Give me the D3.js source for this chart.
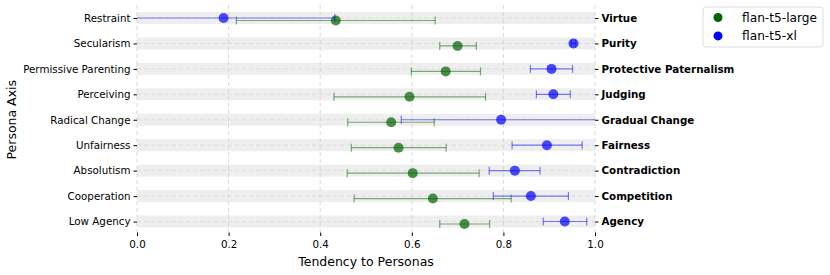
<!DOCTYPE html>
<html lang="en">
<head>
  <meta charset="UTF-8" />
  <title>Persona Axis</title>
  <script src="https://cdnjs.cloudflare.com/ajax/libs/d3/7.8.4/d3.min.js"></script>
  <style>
    body { margin: 0; background: #fff; font-family: "DejaVu Sans", sans-serif; }
    svg { display: block; }
    .grid line { stroke: #cfcfcf; stroke-dasharray: 4,3; stroke-width: 0.8px; }
    .tick text { font-size: 10.3px; fill: #000; font-family: "DejaVu Sans", sans-serif; }
  </style>
</head>
<body>
  <svg width="830" height="275"></svg>
  <script>
    const leftLabels = ["Restraint", "Secularism", "Permissive Parenting", "Perceiving", "Radical Change",
      "Unfairness", "Absolutism", "Cooperation", "Low Agency"];
    const rightLabels = ["Virtue", "Purity", "Protective Paternalism", "Judging", "Gradual Change",
      "Fairness", "Contradiction", "Competition", "Agency"];

    // flan-t5-large
    const largeMean = [0.434, 0.700, 0.674, 0.595, 0.555, 0.571, 0.602, 0.646, 0.715];
    const largeLow  = [0.217, 0.661, 0.599, 0.430, 0.460, 0.468, 0.459, 0.474, 0.661];
    const largeHigh = [0.651, 0.741, 0.750, 0.761, 0.649, 0.675, 0.747, 0.817, 0.770];

    // flan-t5-xl
    const xlMean = [0.189, 0.953, 0.905, 0.909, 0.795, 0.895, 0.825, 0.860, 0.934];
    const xlLow  = [-0.054, 0.948, 0.859, 0.872, 0.577, 0.819, 0.769, 0.778, 0.887];
    const xlHigh = [0.432, 0.958, 0.951, 0.946, 1.013, 0.972, 0.880, 0.942, 0.982];

    const xTicks = [0, 0.2, 0.4, 0.6, 0.8, 1.0];

    const series = [
      { name: "flan-t5-large", color: "darkgreen", mean: largeMean, low: largeLow, high: largeHigh, dy: 2.5 },
      { name: "flan-t5-xl", color: "blue", mean: xlMean, low: xlLow, high: xlHigh, dy: 0 }
    ];

    const margin = { left: 137, right: 235 };
    const width = 830;
    const svg = d3.select("svg");

    const x = d3.scaleLinear().domain([0, 1]).range([margin.left, width - margin.right]);
    const y = d3.scalePoint().domain(d3.range(leftLabels.length))
      .range([18, 221.5]);

    const plot = svg.append("g");
    svg.append("clipPath").attr("id", "clip")
      .append("rect").attr("x", x(0)).attr("y", 0).attr("width", x(1) - x(0)).attr("height", 240);

    // background bands
    plot.selectAll(".band").data(leftLabels).enter().append("rect")
      .attr("x", x(0)).attr("width", x(1) - x(0))
      .attr("y", (d, i) => y(i) - 6).attr("height", 12)
      .attr("fill", "#eeeeee");

    // grid
    const grid = plot.append("g").attr("class", "grid");
    grid.selectAll(".v").data(xTicks).enter().append("line")
      .attr("x1", d => x(d)).attr("x2", d => x(d))
      .attr("y1", 5).attr("y2", 232);
    grid.selectAll(".h").data(leftLabels).enter().append("line")
      .attr("x1", x(0)).attr("x2", x(1))
      .attr("y1", (d, i) => y(i)).attr("y2", (d, i) => y(i))
      .style("stroke", "#d8d8d8");

    // error bars and points
    series.forEach(s => {
      const g = plot.append("g").attr("clip-path", "url(#clip)");
      const idx = d3.range(s.mean.length);
      g.selectAll(".err").data(idx).enter().append("line")
        .attr("x1", i => x(s.low[i])).attr("x2", i => x(s.high[i]))
        .attr("y1", i => y(i) + s.dy).attr("y2", i => y(i) + s.dy)
        .attr("stroke", s.color).attr("stroke-opacity", 0.5).attr("stroke-width", 1.2);
      ["low", "high"].forEach(k => {
        g.selectAll(".cap-" + k).data(idx).enter().append("line")
          .attr("x1", i => x(s[k][i])).attr("x2", i => x(s[k][i]))
          .attr("y1", i => y(i) + s.dy - 4).attr("y2", i => y(i) + s.dy + 4)
          .attr("stroke", s.color).attr("stroke-opacity", 0.5).attr("stroke-width", 1.2);
      });
      g.selectAll(".pt").data(idx).enter().append("circle")
        .attr("cx", i => x(s.mean[i])).attr("cy", i => y(i) + s.dy)
        .attr("r", 5).attr("fill", s.color).attr("fill-opacity", 0.7);
    });

    // axes
    const left = svg.append("g").attr("transform", `translate(${x(0)},0)`)
      .call(d3.axisLeft(y).tickFormat(i => leftLabels[i]).tickSize(3.5).tickPadding(3));
    left.select(".domain").remove();

    const right = svg.append("g").attr("transform", `translate(${x(1)},0)`)
      .call(d3.axisRight(y).tickFormat(i => rightLabels[i]).tickSize(3.5).tickPadding(3));
    right.select(".domain").remove();
    right.selectAll("text").style("font-weight", "bold");

    const bottom = svg.append("g").attr("transform", "translate(0,232.5)")
      .call(d3.axisBottom(x).tickValues(xTicks).tickFormat(d3.format(".1f")).tickSize(3.5).tickPadding(5));
    bottom.select(".domain").remove();

    svg.append("text").attr("x", (x(0) + x(1)) / 2).attr("y", 265.5)
      .attr("text-anchor", "middle").style("font-size", "12.5px").text("Tendency to Personas");
    svg.append("text").attr("transform", `translate(16,${(y(0) + y(8)) / 2}) rotate(-90)`)
      .attr("text-anchor", "middle").style("font-size", "12.5px").text("Persona Axis");

    // legend
    const lg = svg.append("g").attr("transform", "translate(703,7)");
    lg.append("rect").attr("width", 120).attr("height", 40).attr("rx", 3)
      .attr("fill", "#fff").attr("stroke", "#dddddd");
    series.forEach((s, i) => {
      lg.append("circle").attr("cx", 15).attr("cy", 10.5 + i * 18.4).attr("r", 4.5).attr("fill", s.color);
      lg.append("text").attr("x", 39).attr("y", 10.5 + i * 18.4).attr("dy", "0.35em")
        .style("font-size", "12.2px").text(s.name);
    });
  </script>
</body>
</html>
